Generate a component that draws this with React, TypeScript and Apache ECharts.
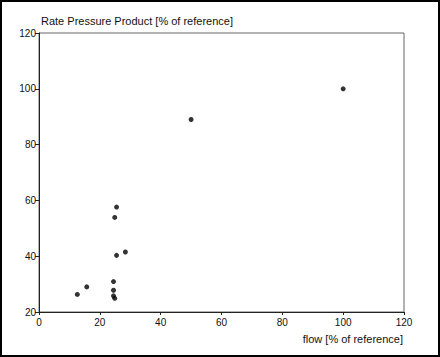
import React, { useEffect, useRef } from "react";
import * as echarts from "echarts";

const flowValues = [100, 50, 25.5, 24.9, 28.4, 25.5, 24.5, 24.5, 24.5, 24.9, 15.7, 12.6];
const rppValues = [100, 89, 57.6, 53.9, 41.5, 40.3, 30.9, 27.8, 25.8, 24.9, 29.0, 26.3];
const xTicks = { min: 0, max: 120, interval: 20 };
const yTicks = { min: 20, max: 120, interval: 20 };
const titleText = "Rate Pressure Product [% of reference]";
const xName = "flow [% of reference]";

const FONT = "'Liberation Sans', Arial, Helvetica, sans-serif";

export default function App() {
  const ref = useRef<HTMLDivElement>(null);
  useEffect(() => {
    if (!ref.current) return;
    const chart = echarts.init(ref.current, null, { renderer: "svg" });
    const data = flowValues.map((x, i) => [x, rppValues[i]]);
    chart.setOption({
      animation: false,
      backgroundColor: "#ffffff",
      textStyle: { fontFamily: FONT },
      grid: { left: 39, top: 33, right: 36, bottom: 45, show: true, borderColor: "#666", borderWidth: 1 },
      xAxis: {
        type: "value",
        min: xTicks.min,
        max: xTicks.max,
        interval: xTicks.interval,
        axisLine: { show: true, onZero: false, lineStyle: { color: "#222", width: 1 } },
        axisTick: { show: true, length: 3, lineStyle: { color: "#222" } },
        axisLabel: { color: "#111", fontSize: 10, fontFamily: FONT, margin: 5 },
        splitLine: { show: false },
      },
      yAxis: {
        type: "value",
        min: yTicks.min,
        max: yTicks.max,
        interval: yTicks.interval,
        axisLine: { show: true, onZero: false, lineStyle: { color: "#222", width: 1 } },
        axisTick: { show: true, length: 4, lineStyle: { color: "#222" } },
        axisLabel: { color: "#111", fontSize: 10, fontFamily: FONT, margin: 3 },
        splitLine: { show: false },
      },
      series: [
        {
          type: "scatter",
          data,
          symbol: "circle",
          symbolSize: 5,
          itemStyle: { color: "#000" },
        },
      ],
      graphic: [
        {
          type: "rect",
          shape: { x: 1, y: 1, width: 438, height: 355 },
          style: { fill: "none", stroke: "#000", lineWidth: 2 },
          silent: true,
        },
        {
          type: "text",
          x: 41,
          y: 21,
          style: { text: titleText, fontSize: 11, fontFamily: FONT, fill: "#111", textVerticalAlign: "middle", verticalAlign: "middle" },
        },
        {
          type: "text",
          x: 403,
          y: 339,
          style: { text: xName, fontSize: 11, fontFamily: FONT, fill: "#111", textAlign: "right", align: "right", verticalAlign: "middle" },
        },
      ],
    });
    return () => chart.dispose();
  }, []);
  return <div ref={ref} style={{ position: "fixed", left: 0, top: 0, width: 440, height: 357 }} />;
}
